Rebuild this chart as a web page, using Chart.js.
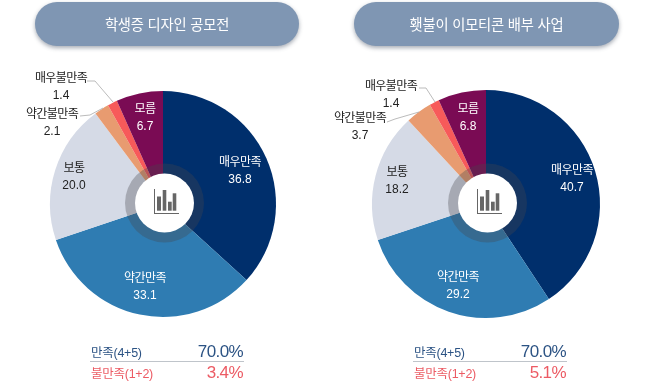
<!DOCTYPE html>
<html lang="ko"><head><meta charset="utf-8">
<script src="https://cdn.jsdelivr.net/npm/chart.js@4"></script>
<style>
html,body{margin:0;padding:0;background:#fff;overflow:hidden}
body{width:647px;height:383px;position:relative;font-family:"Noto Sans CJK KR","Noto Sans",sans-serif}
canvas{position:absolute;top:0}
.pill{position:absolute;top:2px;height:44px;border-radius:22px;background:#7f96b3;box-shadow:0 2px 4px rgba(60,70,90,.45);color:#fff;font-size:14.3px;line-height:44px;text-align:center;letter-spacing:-.2px}
.row{position:absolute;font-family:"Liberation Sans","Noto Sans CJK KR",sans-serif;font-size:12.5px;letter-spacing:-.25px;white-space:nowrap}
.val{position:absolute;font-family:"Liberation Sans",sans-serif;font-size:17px;letter-spacing:-.6px;text-align:right;white-space:nowrap}
.rule{position:absolute;height:1px;background:#bfc4ca;top:361px}
.sat{color:#2c5384}.dis{color:#ec5b64}
</style></head><body>
<canvas id="c1" width="323" height="383" style="left:0;width:323px;height:383px"></canvas>
<canvas id="c2" width="324" height="383" style="left:323px;width:324px;height:383px"></canvas>
<div class="pill" style="left:35px;width:264px">학생증 디자인 공모전</div>
<div class="pill" style="left:354px;width:265px">횃불이 이모티콘 배부 사업</div>
<div class="rule" style="left:90px;width:154px"></div>
<div class="rule" style="left:413px;width:154px"></div>
<div class="row sat" style="left:91px;top:342px">만족(4+5)</div>
<div class="val sat" style="right:404px;top:342px" id="s1"></div>
<div class="row dis" style="left:91px;top:363px">불만족(1+2)</div>
<div class="val dis" style="right:404px;top:363px" id="d1"></div>
<div class="row sat" style="left:414px;top:342px">만족(4+5)</div>
<div class="val sat" style="right:81px;top:342px" id="s2"></div>
<div class="row dis" style="left:414px;top:363px">불만족(1+2)</div>
<div class="val dis" style="right:81px;top:363px" id="d2"></div>
<script>
const categories = ['매우만족','약간만족','보통','약간불만족','매우불만족','모름'];
const contestValues = [36.8,33.1,20.0,2.1,1.4,6.7];
const emoticonValues = [40.7,29.2,18.2,3.7,1.4,6.8];
const sliceColors = ['#002f6c','#2f7cb2','#d5dae6','#e89b70','#f75a5a','#7a0b54'];
const summary1 = ['70.0%','3.4%'];
const summary2 = ['70.0%','5.1%'];
s1.textContent=summary1[0]; d1.textContent=summary1[1];
s2.textContent=summary2[0]; d2.textContent=summary2[1];

const labelLayout1 = [[77,-43],[-18,73],[-89,-37],[-111,-91],[-102,-127],[-18,-96]];
const labelLayout2 = [[86,-35],[-28,72],[-89,-33],[-126,-87],[-95,-119],[-18,-96]];
const leaders1 = [null,null,null,[[-83,-88],[-73,-89],[-60,-96]],[[-76,-123],[-68,-123],[-50,-102]],null];
const leaders2 = [null,null,null,[[-99,-82],[-91,-85],[-67,-92]],[[-67,-116],[-60,-116],[-51,-102]],null];
const txtColor = ['#fff','#fff','#222','#222','#222','#fff'];

const decor = {
  id:'decor',
  afterDatasetsDraw(chart,args,o){
    const ctx=chart.ctx, arc=chart.getDatasetMeta(0).data[0];
    const px=arc.x, py=arc.y, cx=px+1.5, cy=py-1;
    ctx.save();
    ctx.beginPath();ctx.arc(cx,cy,39.5,0,Math.PI*2);ctx.fillStyle='rgba(70,70,75,.33)';ctx.fill();
    ctx.beginPath();ctx.arc(cx,cy,29.5,0,Math.PI*2);ctx.fillStyle='#fff';ctx.fill();
    // icon
    ctx.fillStyle='#666';
    ctx.fillRect(cx-10.5,cy-14,1,25);ctx.fillRect(cx-10.5,cy+10,25,1);
    [[-7.5,-6.5,4,14.2],[-1.8,-13,3.6,20.7],[3.5,-1.3,3.7,9],[8.2,-9.7,3.6,17.4]].forEach(r=>ctx.fillRect(cx+r[0],cy+r[1],r[2],r[3]));
    // leaders
    ctx.strokeStyle='#aaa';ctx.lineWidth=0.8;
    o.leaders.forEach(l=>{ if(!l)return; ctx.beginPath(); l.forEach((p,i)=>i?ctx.lineTo(px+p[0],py+p[1]):ctx.moveTo(px+p[0],py+p[1])); ctx.stroke(); });
    // labels
    ctx.textAlign='center';ctx.textBaseline='middle';
    chart.data.labels.forEach((name,i)=>{
      const p=o.layout[i], v=chart.data.datasets[0].data[i].toFixed(1);
      ctx.fillStyle=txtColor[i];
      ctx.font='12px "Noto Sans CJK KR"';ctx.letterSpacing='-0.6px';
      ctx.fillText(name,px+p[0],py+p[1]);
      ctx.font='12px "Liberation Sans"';ctx.letterSpacing='0px';
      ctx.fillText(v,px+p[0],py+p[1]+18.5);
    });
    ctx.restore();
  }
};
function pie(id,values,padding,layout,leaders){
  new Chart(document.getElementById(id),{
    type:'pie',
    data:{labels:categories,datasets:[{data:values,backgroundColor:sliceColors,borderWidth:0}]},
    options:{responsive:false,animation:false,layout:{padding},
      plugins:{legend:{display:false},tooltip:{enabled:false},decor:{layout,leaders}}},
    plugins:[decor]
  });
}
pie('c1',contestValues,{left:50,right:47,top:91,bottom:66},labelLayout1,leaders1);
pie('c2',emoticonValues,{left:49,right:47,top:90,bottom:65},labelLayout2,leaders2);
</script>
</body></html>
